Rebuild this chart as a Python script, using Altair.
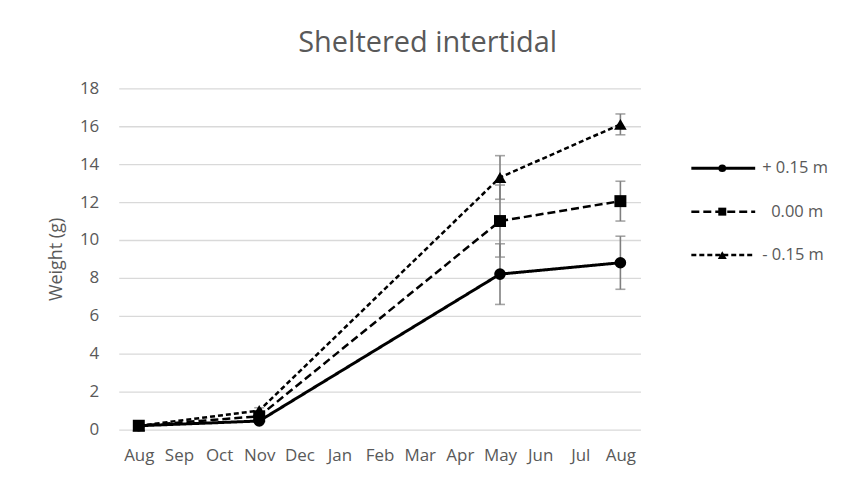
import json
import altair as alt
import pandas as pd

# ---- data ----
months = ["Aug", "Sep", "Oct", "Nov", "Dec", "Jan", "Feb", "Mar", "Apr", "May", "Jun", "Jul", "Aug"]
sample_idx = [0, 3, 9, 12]
series = ["+ 0.15 m", "0.00 m", "- 0.15 m"]

w_plus = [0.20, 0.45, 8.20, 8.80]
w_zero = [0.20, 0.70, 11.00, 12.05]
w_minus = [0.20, 1.00, 13.30, 16.10]

e_plus = [0.03, 0.08, 1.60, 1.40]
e_zero = [0.03, 0.10, 1.90, 1.05]
e_minus = [0.03, 0.15, 1.15, 0.55]

y_ticks = list(range(0, 19, 2))

# ---- styles ----
dashes = [[1, 0], [8, 4], [5, 3]]
shapes = ["circle", "square", "triangle-up"]
line_widths = [3, 2.5, 2.5]
marker_sizes = [135, 144, 160]
legend_marker_sizes = [60, 64, 80]
legend_label_dx = [0, 9, 0]
GRAY = "#595959"
FONT = "Open Sans"

values = [w_plus, w_zero, w_minus]
errors = [e_plus, e_zero, e_minus]

rows = []
for s, vals, errs in zip(series, values, errors):
    for i, v, e in zip(sample_idx, vals, errs):
        rows.append({"series": s, "idx": i, "w": v, "lo": v - e, "hi": v + e})
df = pd.DataFrame(rows)

label_expr = json.dumps(months) + "[datum.value]"

X = alt.X(
    "idx:Q",
    scale=alt.Scale(domain=[-0.5, 12.5], nice=False, zero=False),
    axis=alt.Axis(
        values=list(range(13)), labelExpr=label_expr, title=None, grid=False,
        domain=False, ticks=False, labelFontSize=17, labelColor=GRAY,
        labelFont=FONT, labelPadding=18,
    ),
)
Yscale = alt.Scale(domain=[0, 18], nice=False)
Yaxis = alt.Axis(
    values=y_ticks, title="Weight (g)", grid=True, gridColor="#d9d9d9",
    gridWidth=1.3, domain=False, ticks=False, labelPadding=20, labelFontSize=17,
    labelColor=GRAY, labelFont=FONT, titleFont=FONT, titleFontSize=18,
    titleColor=GRAY, titleFontWeight="normal", titlePadding=14,
)

lines, bars, points = [], [], []
for k, s in enumerate(series):
    base = alt.Chart(df).transform_filter(alt.datum.series == s)
    lines.append(
        base.mark_line(color="black", strokeWidth=line_widths[k], strokeDash=dashes[k])
        .encode(x=X, y=alt.Y("w:Q", scale=Yscale, axis=Yaxis))
    )
    bars.append(
        base.mark_rule(color="#7f7f7f", strokeWidth=1.6)
        .encode(x=X, y=alt.Y("lo:Q", scale=Yscale, axis=Yaxis), y2="hi:Q")
    )
    bars.append(
        base.mark_tick(orient="horizontal", color="#7f7f7f", thickness=1.6, size=10)
        .encode(x=X, y=alt.Y("lo:Q", scale=Yscale, axis=Yaxis))
    )
    bars.append(
        base.mark_tick(orient="horizontal", color="#7f7f7f", thickness=1.6, size=10)
        .encode(x=X, y=alt.Y("hi:Q", scale=Yscale, axis=Yaxis))
    )
    points.append(
        base.mark_point(shape=shapes[k], filled=True, color="black", opacity=1,
                        size=marker_sizes[k])
        .encode(x=X, y=alt.Y("w:Q", scale=Yscale, axis=Yaxis))
    )

main = alt.layer(*lines, *bars, *points).properties(width=523, height=342)

# ---- legend panel ----
leg_df = pd.DataFrame({"series": series, "pos": list(range(len(series)))})
LY = alt.Y("pos:Q", scale=alt.Scale(domain=[-1.84, 3.79], reverse=True, nice=False,
                                      zero=False), axis=None)
leg_layers = []
for k, s in enumerate(series):
    lb = alt.Chart(leg_df).transform_filter(alt.datum.series == s)
    leg_layers.append(
        lb.mark_rule(color="black", strokeWidth=line_widths[k], strokeDash=dashes[k])
        .encode(x=alt.value(0), x2=alt.value(64), y=LY)
    )
    leg_layers.append(
        lb.mark_point(shape=shapes[k], filled=True, color="black", opacity=1,
                      size=legend_marker_sizes[k])
        .encode(x=alt.value(31), y=LY)
    )
    leg_layers.append(
        lb.mark_text(align="left", baseline="middle", font=FONT, fontSize=16.5,
                     color=GRAY, dx=legend_label_dx[k])
        .encode(x=alt.value(71), y=LY, text="series:N")
    )
legend = alt.layer(*leg_layers).properties(width=64, height=245)

chart = (
    alt.hconcat(main, legend, spacing=49)
    .properties(
        title=alt.TitleParams(
            "Sheltered intertidal", fontSize=29, font=FONT, color=GRAY,
            fontWeight="normal", anchor="middle", offset=21, dx=-10,
        ),
        padding={"left": 39, "top": 21, "right": 5, "bottom": 5},
    )
    .configure_view(stroke=None)
)

chart.save("out.html", embed_options={"renderer": "svg", "actions": False})
